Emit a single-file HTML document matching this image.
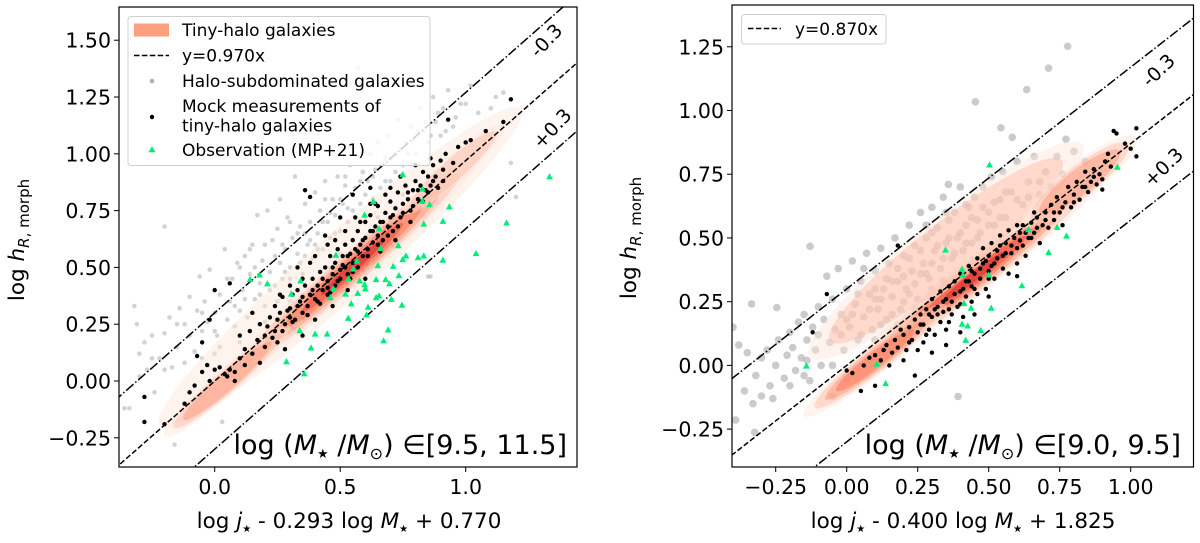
<!DOCTYPE html>
<html><head><meta charset="utf-8">
<style>
html,body{margin:0;padding:0;background:#fff;}
svg{display:block;font-family:"DejaVu Sans","Liberation Sans",sans-serif;}
</style></head>
<body>
<svg id="chart" width="1200" height="543" viewBox="0 0 1200 543" xmlns="http://www.w3.org/2000/svg">
<defs>
<clipPath id="clipL"><rect x="119" y="7" width="458" height="460"/></clipPath>
<clipPath id="clipR"><rect x="732" y="5" width="461.5" height="462"/></clipPath>
</defs>
<g id="panelL"></g>
<g id="panelR"></g>
</svg>
<script>
// ---------- LEFT PANEL DATA ----------
const leftXTicks = [0.0, 0.5, 1.0];
const leftXTickLabels = ["0.0", "0.5", "1.0"];
const leftYTicks = [-0.25, 0, 0.25, 0.5, 0.75, 1.0, 1.25, 1.5];
const leftYTickLabels = ["\u22120.25", "0.00", "0.25", "0.50", "0.75", "1.00", "1.25", "1.50"];
const leftSlope = 0.970;
const leftOffset = 0.3;
const leftBlack = [[-0.28,-0.07],[-0.28,-0.18],[-0.2,-0.19],[-0.12,-0.1],[-0.1,-0.05],[-0.08,-0.02],[-0.07,0.11],[-0.05,0.04],[-0.03,0.07],[-0.02,0.0],[0.0,0.05],[0.02,0.06],[0.04,0.03],[0.06,0.05],[0.05,0.02],[0.08,0.04],[0.1,0.1],[0.12,0.07],[-0.05,0.17],[-0.02,0.27],[0.0,0.4],[0.06,0.43],[0.12,0.14],[0.14,0.22],[0.15,0.12],[0.17,0.18],[0.18,0.25],[0.2,0.2],[0.2,0.15],[0.22,0.28],[0.24,0.33],[0.24,0.22],[0.26,0.3],[0.27,0.37],[0.28,0.25],[0.3,0.28],[0.3,0.32],[0.31,0.38],[0.32,0.27],[0.33,0.4],[0.34,0.35],[0.35,0.3],[0.36,0.42],[0.36,0.84],[0.38,0.81],[0.37,0.33],[0.38,0.38],[0.39,0.45],[0.4,0.36],[0.41,0.42],[0.42,0.48],[0.42,0.34],[0.43,0.4],[0.44,0.5],[0.45,0.44],[0.45,0.38],[0.46,0.55],[0.47,0.47],[0.48,0.42],[0.48,0.52],[0.49,0.58],[0.5,0.49],[0.5,0.45],[0.51,0.55],[0.52,0.6],[0.52,0.5],[0.53,0.47],[0.54,0.56],[0.55,0.62],[0.55,0.52],[0.56,0.58],[0.57,0.5],[0.57,0.66],[0.58,0.6],[0.59,0.55],[0.6,0.63],[0.6,0.7],[0.61,0.58],[0.62,0.66],[0.62,0.73],[0.63,0.61],[0.64,0.68],[0.65,0.64],[0.65,0.77],[0.66,0.7],[0.67,0.62],[0.68,0.74],[0.69,0.68],[0.7,0.79],[0.7,0.72],[0.71,0.66],[0.72,0.76],[0.73,0.83],[0.74,0.72],[0.75,0.78],[0.76,0.86],[0.77,0.8],[0.78,0.75],[0.79,0.84],[0.8,0.88],[0.81,0.8],[0.82,0.86],[0.83,0.92],[0.84,0.84],[0.85,0.9],[0.86,0.86],[0.87,0.95],[0.88,0.9],[0.9,0.97],[0.91,0.93],[0.92,1.0],[0.95,0.96],[0.97,1.03],[1.0,1.05],[1.02,1.06],[1.08,1.1],[1.15,1.14],[1.18,1.24],[0.93,1.15],[0.55,0.82],[0.5,0.72],[0.33,0.5],[0.44,0.64],[0.62,0.85],[0.28,0.14],[0.35,0.2],[0.4,0.27],[0.47,0.33],[0.53,0.4],[0.6,0.45],[0.25,0.17],[0.18,0.08],[0.08,0.0],
[0.21,0.24],[0.23,0.19],[0.25,0.27],[0.27,0.22],[0.29,0.31],[0.31,0.26],[0.33,0.33],[0.35,0.37],[0.37,0.29],[0.39,0.4],[0.41,0.35],[0.43,0.45],[0.45,0.41],[0.47,0.5],[0.49,0.44],[0.51,0.51],[0.53,0.55],[0.55,0.48],[0.57,0.57],[0.59,0.62],[0.61,0.55],[0.63,0.66],[0.65,0.6],[0.67,0.7],[0.69,0.64],[0.71,0.73],[0.73,0.68],[0.75,0.74],[0.77,0.83],[0.79,0.77],[0.81,0.84],[0.83,0.79],[0.85,0.83],[0.87,0.88],[0.89,0.85],[0.91,0.88],[0.4,0.55],[0.45,0.6],[0.38,0.52],[0.3,0.42],[0.26,0.38],[0.52,0.66],[0.58,0.7],[0.64,0.78],[0.7,0.85],[0.15,0.3],[0.1,0.2],[0.35,0.45],[0.48,0.62],[0.56,0.72],[0.62,0.78],[0.68,0.82],[0.74,0.9],[0.8,0.95],[0.86,0.98],[0.46,0.39],[0.54,0.45],[0.66,0.57],[0.72,0.62],[0.78,0.7]];
const leftGray = [[-0.36,-0.12],[-0.34,-0.12],[-0.32,0.33],[-0.31,0.25],[-0.3,0.12],[-0.3,0.02],[-0.28,0.17],[-0.27,0.05],[-0.25,0.2],[-0.24,-0.05],[-0.22,0.1],[-0.2,0.68],[-0.2,0.21],[-0.18,0.28],[-0.17,0.06],[-0.16,-0.28],[-0.15,0.15],[-0.14,0.32],[-0.12,0.25],[-0.1,0.2],[-0.1,0.37],[-0.08,0.13],[-0.07,0.31],[-0.06,0.46],[-0.05,0.22],[-0.04,0.35],[-0.03,0.26],[-0.02,0.49],[0.0,0.3],[0.01,0.2],[0.02,0.38],[0.03,-0.18],[0.04,0.58],[0.05,0.27],[0.06,0.35],[0.07,0.45],[0.08,0.24],[0.09,0.52],[0.1,0.31],[0.11,0.4],[0.12,0.55],[0.13,0.28],[0.14,0.47],[0.15,0.6],[0.16,0.36],[0.17,0.73],[0.18,0.43],[0.19,0.53],[0.2,0.33],[0.21,0.75],[0.22,0.48],[0.23,0.62],[0.24,0.42],[0.25,0.67],[0.26,0.52],[0.27,0.45],[0.28,0.58],[0.29,0.72],[0.3,0.5],[0.31,0.63],[0.32,0.9],[0.33,0.56],[0.34,0.68],[0.35,0.47],[0.36,0.78],[0.37,0.6],[0.38,0.7],[0.39,0.54],[0.4,0.83],[0.41,0.65],[0.42,0.75],[0.43,0.58],[0.44,0.88],[0.45,0.7],[0.46,0.63],[0.47,0.8],[0.48,0.73],[0.49,0.9],[0.5,0.66],[0.51,0.78],[0.52,0.86],[0.53,0.7],[0.54,0.95],[0.55,0.75],[0.56,0.85],[0.57,1.38],[0.58,0.78],[0.59,0.92],[0.6,0.72],[0.61,0.88],[0.62,1.0],[0.63,0.8],[0.64,0.93],[0.65,1.05],[0.66,0.85],[0.68,0.98],[0.69,1.08],[0.7,0.88],[0.72,1.0],[0.73,1.15],[0.75,0.95],[0.76,1.05],[0.78,1.12],[0.8,1.0],[0.82,1.2],[0.83,1.1],[0.85,1.05],[0.87,1.25],[0.88,1.14],[0.9,1.08],[0.91,1.2],[0.93,1.28],[0.95,1.12],[0.98,1.22],[1.02,1.3],[1.05,1.18],[1.1,1.2],[1.12,1.25],[1.15,1.27],[1.18,0.96],[1.2,0.81],[0.85,0.46],[0.86,0.46],[0.42,0.42],[0.3,0.35],[0.5,0.56],[0.65,0.72],[0.2,0.26],[0.1,0.17],[0.0,0.12],[-0.12,0.08],[0.35,0.38],[0.55,0.62],[0.75,0.82],[0.25,0.35],[0.45,0.5],
[-0.05,0.3],[0.0,0.22],[0.05,0.45],[0.08,0.33],[0.12,0.36],[0.16,0.5],[0.18,0.38],[0.22,0.4],[0.24,0.55],[0.27,0.6],[0.3,0.45],[0.33,0.65],[0.36,0.55],[0.38,0.62],[0.41,0.58],[0.43,0.7],[0.46,0.74],[0.48,0.65],[0.5,0.8],[0.53,0.76],[0.56,0.72],[0.58,0.88],[0.6,0.82],[0.63,0.9],[0.66,0.95],[0.68,0.88],[0.7,0.98],[0.72,0.92],[0.74,1.02],[0.77,1.0],[0.79,1.06],[0.81,1.1],[0.84,1.14],[0.86,1.08],[0.89,1.18],[0.92,1.1],[0.96,1.16],[1.0,1.22],[0.2,0.6],[0.14,0.58],[0.3,0.7],[0.1,0.5],[0.26,0.8],[0.36,0.65],[0.44,0.8],[0.52,0.9],[-0.15,0.25],[-0.2,0.05],[-0.25,0.1],[-0.05,0.1],[0.02,0.15],[0.28,0.48],[0.34,0.52],[0.4,0.6]];
const leftGreen = [[1.334,0.898],[1.163,0.695],[1.041,0.56],[0.909,0.702],[0.935,0.766],[0.909,0.531],[0.856,0.776],[0.828,0.844],[0.828,0.791],[0.833,0.69],[0.833,0.55],[0.81,0.542],[0.749,0.908],[0.632,0.789],[0.597,0.73],[0.655,0.669],[0.661,0.583],[0.731,0.595],[0.762,0.55],[0.749,0.534],[0.711,0.504],[0.734,0.463],[0.681,0.446],[0.696,0.427],[0.65,0.507],[0.643,0.446],[0.597,0.424],[0.578,0.44],[0.6,0.405],[0.567,0.527],[0.552,0.492],[0.533,0.45],[0.483,0.553],[0.473,0.405],[0.521,0.382],[0.57,0.385],[0.544,0.339],[0.643,0.366],[0.655,0.374],[0.704,0.359],[0.746,0.333],[0.611,0.324],[0.605,0.29],[0.532,0.275],[0.46,0.366],[0.339,0.221],[0.4,0.206],[0.448,0.206],[0.384,0.145],[0.286,0.084],[0.357,0.031],[0.673,0.176],[0.691,0.224],[0.305,0.382],[0.21,0.427],[0.141,0.446],[0.179,0.466],[0.342,0.44]];
const leftKdeX = [0.5, 0.55, 0.05, 0.95];
const leftKdeY = [0.5, 0.5, 0.0, 0.93];
const leftKdeLen = [0.72, 0.5, 0.25, 0.2];
const leftKdeWid = [0.2, 0.11, 0.08, 0.08];
const leftKdePeak = [1, 6, 3, 2];

// ---------- RIGHT PANEL DATA ----------
const rightXTicks = [-0.25, 0, 0.25, 0.5, 0.75, 1.0];
const rightXTickLabels = ["\u22120.25", "0.00", "0.25", "0.50", "0.75", "1.00"];
const rightYTicks = [-0.25, 0, 0.25, 0.5, 0.75, 1.0, 1.25];
const rightYTickLabels = ["\u22120.25", "0.00", "0.25", "0.50", "0.75", "1.00", "1.25"];
const rightSlope = 0.870;
const rightOffset = 0.3;
const rightBlack = [[-0.12,0.13],[-0.07,0.28],[0.0,-0.02],[0.02,-0.03],[0.05,-0.1],[0.06,0.0],[0.08,0.03],[0.1,-0.08],[0.1,0.04],[0.12,0.02],[0.13,0.06],[0.15,0.0],[0.16,0.05],[0.17,0.1],[0.18,0.47],[0.18,0.07],[0.2,0.12],[0.21,0.06],[0.22,0.15],[0.23,0.1],[0.24,0.18],[0.24,-0.04],[0.25,0.13],[0.26,0.2],[0.27,0.09],[0.27,0.16],[0.28,0.22],[0.29,0.14],[0.3,0.19],[0.3,0.26],[0.31,0.12],[0.32,0.23],[0.33,0.17],[0.33,0.29],[0.34,0.21],[0.35,0.26],[0.35,0.14],[0.36,0.31],[0.37,0.2],[0.37,0.25],[0.38,0.33],[0.39,0.23],[0.4,0.29],[0.4,0.36],[0.41,0.19],[0.42,0.27],[0.42,0.33],[0.43,0.39],[0.44,0.25],[0.44,0.31],[0.45,0.36],[0.46,0.42],[0.46,0.28],[0.47,0.34],[0.48,0.4],[0.48,0.46],[0.49,0.3],[0.5,0.37],[0.5,0.43],[0.51,0.48],[0.52,0.34],[0.52,0.4],[0.53,0.45],[0.54,0.51],[0.55,0.38],[0.55,0.43],[0.56,0.48],[0.57,0.36],[0.57,0.53],[0.58,0.44],[0.59,0.5],[0.6,0.4],[0.6,0.46],[0.61,0.52],[0.62,0.47],[0.62,0.55],[0.63,0.43],[0.64,0.5],[0.65,0.56],[0.66,0.52],[0.67,0.58],[0.68,0.48],[0.69,0.55],[0.7,0.6],[0.71,0.54],[0.72,0.63],[0.73,0.57],[0.74,0.66],[0.75,0.6],[0.76,0.55],[0.77,0.64],[0.78,0.7],[0.79,0.62],[0.8,0.67],[0.81,0.72],[0.82,0.65],[0.83,0.7],[0.84,0.76],[0.85,0.68],[0.86,0.72],[0.87,0.77],[0.88,0.71],[0.89,0.75],[0.9,0.69],[0.91,0.8],[0.92,0.83],[0.93,0.78],[0.94,0.92],[0.95,0.91],[0.98,0.87],[1.0,0.85],[1.02,0.93],[1.02,0.82],[0.6,0.35],[0.35,0.08],[0.4,0.13],[0.5,0.27],[0.3,0.05],[0.45,0.2],
[0.14,0.08],[0.19,0.14],[0.22,0.09],[0.26,0.16],[0.29,0.2],[0.31,0.22],[0.34,0.25],[0.36,0.22],[0.38,0.28],[0.41,0.3],[0.43,0.33],[0.45,0.3],[0.47,0.38],[0.49,0.41],[0.51,0.39],[0.53,0.42],[0.56,0.44],[0.58,0.47],[0.61,0.49],[0.63,0.52],[0.65,0.5],[0.67,0.54],[0.7,0.57],[0.73,0.6],[0.76,0.62],[0.8,0.64],[0.84,0.7],[0.87,0.74],[0.9,0.73],[0.32,0.2],[0.28,0.12],[0.44,0.37],[0.54,0.47],[0.6,0.55],[0.66,0.6],[0.5,0.34],[0.4,0.24],[0.2,0.02],[0.25,0.06],[0.36,0.17]];
const rightGray = [[0.778,1.252],[0.711,1.166],[0.634,1.082],[0.453,1.034],[0.543,0.932],[0.583,0.895],[0.772,0.887],[0.358,0.71],[-0.129,0.467],[-0.335,0.241],[-0.246,0.227],[0.392,-0.122],[-0.324,-0.263],[-0.391,-0.214],[-0.38,0.08],[-0.36,-0.1],[-0.35,0.05],[-0.33,-0.15],[-0.32,-0.04],[-0.3,0.03],[-0.28,0.06],[-0.27,-0.08],[-0.25,0.0],[-0.24,0.1],[-0.22,-0.05],[-0.21,0.04],[-0.2,0.13],[-0.19,0.07],[-0.18,-0.02],[-0.17,0.17],[-0.16,0.03],[-0.15,0.2],[-0.14,0.1],[-0.13,-0.06],[-0.12,0.15],[-0.11,0.06],[-0.1,0.23],[-0.09,0.0],[-0.08,0.18],[-0.07,0.35],[-0.06,0.09],[-0.05,0.26],[-0.04,0.14],[-0.03,0.38],[-0.02,0.2],[-0.01,0.06],[0.0,0.3],[0.01,0.15],[0.02,0.41],[0.03,0.24],[0.04,0.1],[0.05,0.33],[0.06,0.19],[0.07,0.44],[0.08,0.28],[0.09,0.14],[0.1,0.37],[0.11,0.22],[0.12,0.46],[0.13,0.3],[0.14,0.18],[0.15,0.4],[0.16,0.27],[0.17,0.5],[0.18,0.33],[0.19,0.22],[0.2,0.43],[0.21,0.3],[0.22,0.55],[0.23,0.37],[0.24,0.47],[0.25,0.26],[0.26,0.6],[0.27,0.4],[0.28,0.5],[0.29,0.34],[0.3,0.62],[0.31,0.45],[0.32,0.54],[0.33,0.38],[0.34,0.66],[0.35,0.48],[0.36,0.57],[0.37,0.42],[0.38,0.6],[0.39,0.5],[0.4,0.7],[0.41,0.45],[0.42,0.55],[0.43,0.62],[0.44,0.48],[0.45,0.66],[0.46,0.57],[0.47,0.52],[0.48,0.7],[0.5,0.6],[0.51,0.74],[0.52,0.55],[0.54,0.65],[0.55,0.76],[0.56,0.58],[0.58,0.68],[0.6,0.8],[0.62,0.63],[0.64,0.72],[0.66,0.82],[0.68,0.67],[0.7,0.76],[0.72,0.7],[0.74,0.82],[0.76,0.75],[0.8,0.84],[0.84,0.8],[-0.4,0.15],[-0.26,-0.13],[-0.05,-0.12],[0.0,-0.05],[-0.15,-0.04],[0.3,0.52],[0.2,0.35],[0.1,0.26],[0.45,0.33],[0.4,0.3],[0.1,0.1],
[0.02,0.2],[0.05,0.12],[0.08,0.22],[0.1,0.3],[0.12,0.16],[0.14,0.34],[0.16,0.2],[0.18,0.38],[0.2,0.25],[0.22,0.42],[0.24,0.32],[0.26,0.45],[0.28,0.36],[0.3,0.4],[0.32,0.47],[0.34,0.42],[0.36,0.5],[0.38,0.44],[0.4,0.52],[0.42,0.48],[0.44,0.58],[0.46,0.5],[0.48,0.62],[0.5,0.55],[0.52,0.64],[0.54,0.58],[0.56,0.68],[0.6,0.65],[0.64,0.66],[0.68,0.72],[-0.1,0.12],[-0.05,0.0],[-0.02,0.12],[0.0,0.18],[0.04,0.28],[0.06,0.38],[0.12,0.26],[0.16,0.33],[0.22,0.28],[0.26,0.36],[0.3,0.3],[0.34,0.33],[0.18,0.16],[0.24,0.22],[-0.2,-0.08],[-0.3,-0.12],[-0.14,0.02],[0.28,0.55],[0.35,0.6],[0.42,0.63]];
const rightGreen = [[0.503,0.786],[0.953,0.777],[0.64,0.532],[0.741,0.541],[0.774,0.507],[0.711,0.442],[0.617,0.312],[0.348,0.452],[0.406,0.377],[0.409,0.354],[0.5,0.354],[0.413,0.242],[0.438,0.224],[0.509,0.224],[0.406,0.161],[0.426,0.154],[0.472,0.136],[0.419,0.098],[0.106,0.004],[-0.142,-0.003],[0.137,-0.072]];
const rightKdeX = [0.45, 0.1, 0.35, 0.82];
const rightKdeY = [0.35, 0.02, 0.45, 0.72];
const rightKdeLen = [0.45, 0.25, 0.48, 0.2];
const rightKdeWid = [0.1, 0.08, 0.18, 0.1];
const rightKdePeak = [6, 4, 2, 3];

const NS = "http://www.w3.org/2000/svg";
function mk(tag, attrs, parent){
  const e = document.createElementNS(NS, tag);
  for (const k in attrs) e.setAttribute(k, attrs[k]);
  if (parent) parent.appendChild(e);
  return e;
}
const kdeColors = ["#fee5d9","#fcbba1","#fc9272","#fb6a4a","#ef3b2c","#cb181d"];

function drawPanel(g, cfg){
  const X = v => cfg.x0 + cfg.sx * v;
  const Y = v => cfg.y0 - cfg.sy * v;
  const F = cfg.frame;
  const plot = mk("g", {"clip-path": "url(#" + cfg.clip + ")"}, g);

  const grayG = mk("g", {}, plot);
  
  
  cfg.gray.forEach(p => {
    const c = mk("circle", {cx: X(p[0]), cy: Y(p[1]), r: cfg.grayR, fill: "#a8a8a8", "fill-opacity": cfg.grayA}, grayG);
    
    
  });

  const kdeG = mk("g", {}, plot);
  
  
  for (let i = 0; i < cfg.kdeX.length; i++){
    const cx = cfg.kdeX[i], cy = cfg.kdeY[i], L = cfg.kdeLen[i], W = cfg.kdeWid[i];
    const ax = X(cx - L), ay = Y(cy - L * cfg.slope), bx = X(cx + L), by = Y(cy + L * cfg.slope);
    const pcx = X(cx), pcy = Y(cy);
    const len = Math.hypot(bx - ax, by - ay) / 2;
    const ang = Math.atan2(by - ay, bx - ax) * 180 / Math.PI;
    const wid = W * cfg.sy * 0.7;
    for (let k = 0; k < cfg.kdePeak[i]; k++){
      const f = 1 - k * 0.15;
      const e = mk("ellipse", {cx: pcx, cy: pcy, rx: len * f, ry: wid * (1 - k * 0.15), fill: kdeColors[k], "fill-opacity": 0.45,
        transform: "rotate(" + ang + " " + pcx + " " + pcy + ")"}, kdeG);
      
      
    }
  }

  const xa = cfg.xmin, xb = cfg.xmax;
  const lineDefs = [[0, "5.5,2.4", "fit-line"], [cfg.offset, "9.6,2.4,1.5,2.4", "offset-line-minus"], [-cfg.offset, "9.6,2.4,1.5,2.4", "offset-line-plus"]];
  lineDefs.forEach(d => {
    const l = mk("line", {x1: X(xa), y1: Y(cfg.slope * xa + d[0]), x2: X(xb), y2: Y(cfg.slope * xb + d[0]), stroke: "#000", "stroke-width": 1.5, "stroke-dasharray": d[1]}, plot);
    
    
  });

  const blackG = mk("g", {}, plot);
  
  
  cfg.black.forEach(p => {
    const c = mk("circle", {cx: X(p[0]), cy: Y(p[1]), r: 2.2, fill: "#000"}, blackG);
    
    
  });

  const greenG = mk("g", {}, plot);
  
  
  cfg.green.forEach(p => {
    const x = X(p[0]), y = Y(p[1]);
    const t = mk("polygon", {points: `${x},${y-3.8} ${x-3.4},${y+2.4} ${x+3.4},${y+2.4}`, fill: "#00ee77"}, greenG);
    
    
  });

  const fr = mk("rect", {x: F[0], y: F[1], width: F[2] - F[0], height: F[3] - F[1], fill: "none", stroke: "#000", "stroke-width": 1.2}, g);
  
  

  cfg.xTicks.forEach((v, i) => {
    const x = X(v);
    const t = mk("line", {x1: x, y1: F[3], x2: x, y2: F[3] + 5, stroke: "#000", "stroke-width": 1}, g);
    
    
    const tx = mk("text", {x: x, y: F[3] + 27, "font-size": 20.5, "text-anchor": "middle", fill: "#000"}, g);
    tx.textContent = cfg.xLabels[i];
    
    
  });
  cfg.yTicks.forEach((v, i) => {
    const y = Y(v);
    const t = mk("line", {x1: F[0] - 5, y1: y, x2: F[0], y2: y, stroke: "#000", "stroke-width": 1}, g);
    
    
    const tx = mk("text", {x: F[0] - 8, y: y + 7.5, "font-size": 20.5, "text-anchor": "end", fill: "#000"}, g);
    tx.textContent = cfg.yLabels[i];
    
    
  });
}

drawPanel(document.getElementById("panelL"), {x0: 214.7, sx: 251, y0: 381, sy: 227.2, frame: [119, 7, 577, 467], clip: "clipL",
  xmin: -0.4, xmax: 1.5, slope: leftSlope, offset: leftOffset, gray: leftGray, black: leftBlack, green: leftGreen,
  kdeX: leftKdeX, kdeY: leftKdeY, kdeLen: leftKdeLen, kdeWid: leftKdeWid, kdePeak: leftKdePeak, grayR: 2.3, grayA: 0.5,
  xTicks: leftXTicks, xLabels: leftXTickLabels, yTicks: leftYTicks, yLabels: leftYTickLabels});
drawPanel(document.getElementById("panelR"), {x0: 846.7, sx: 284, y0: 365.4, sy: 254.9, frame: [732, 5, 1193.5, 467], clip: "clipR",
  xmin: -0.45, xmax: 1.25, slope: rightSlope, offset: rightOffset, gray: rightGray, black: rightBlack, green: rightGreen,
  kdeX: rightKdeX, kdeY: rightKdeY, kdeLen: rightKdeLen, kdeWid: rightKdeWid, kdePeak: rightKdePeak, grayR: 3.8, grayA: 0.6,
  xTicks: rightXTicks, xLabels: rightXTickLabels, yTicks: rightYTicks, yLabels: rightYTickLabels});
</script>

<svg width="1200" height="543" style="position:absolute;left:0;top:0;font-family:'DejaVu Sans','Liberation Sans',sans-serif;">
  <g>
    <rect x="128" y="16.5" width="302" height="149" rx="3" fill="#fff" fill-opacity="0.8" stroke="#d0d0d0" stroke-width="1"/>
    <rect x="134" y="23.5" width="35" height="13" fill="#fc9f7f"/>
    <text x="182" y="36" font-size="17">Tiny-halo galaxies</text>
    <line x1="134" y1="55.5" x2="169" y2="55.5" stroke="#000" stroke-width="1.5" stroke-dasharray="5.5,2.4"/>
    <text x="182" y="61.5" font-size="17">y=0.970x</text>
    <circle cx="152" cy="81" r="2.3" fill="#b0b0b0"/>
    <text x="182" y="87" font-size="17">Halo-subdominated galaxies</text>
    <circle cx="152" cy="117" r="2.2" fill="#000"/>
    <text x="182" y="112" font-size="17">Mock measurements of</text>
    <text x="182" y="131.5" font-size="17">tiny-halo galaxies</text>
    <polygon points="152,146 148.6,152.3 155.4,152.3" fill="#00ee77"/>
    <text x="182" y="156" font-size="17">Observation (MP+21)</text>
  </g>
  <g>
    <rect x="741.5" y="14.5" width="144.5" height="29.5" rx="3" fill="#fff" fill-opacity="0.8" stroke="#d0d0d0" stroke-width="1"/>
    <line x1="748" y1="28.5" x2="781" y2="28.5" stroke="#000" stroke-width="1.5" stroke-dasharray="5.5,2.4"/>
    <text x="795" y="35" font-size="17">y=0.870x</text>
  </g>
  <text x="0" y="0" font-size="19" transform="translate(551,45) rotate(-47)" text-anchor="middle">-0.3</text>
  <text x="0" y="0" font-size="19" transform="translate(557,133) rotate(-47)" text-anchor="middle">+0.3</text>
  <text x="0" y="0" font-size="19" transform="translate(1163,75) rotate(-44)" text-anchor="middle">-0.3</text>
  <text x="0" y="0" font-size="19" transform="translate(1168,172) rotate(-44)" text-anchor="middle">+0.3</text>
  <text x="567" y="454" font-size="27" text-anchor="end">log (<tspan font-style="italic">M</tspan><tspan font-size="13" dy="4">★</tspan><tspan dy="-4"> /</tspan><tspan font-style="italic">M</tspan><tspan font-size="16" dy="5">⊙</tspan><tspan dy="-5">) ∈[9.5, 11.5]</tspan></text>
  <text x="1181" y="454" font-size="27" text-anchor="end">log (<tspan font-style="italic">M</tspan><tspan font-size="13" dy="4">★</tspan><tspan dy="-4"> /</tspan><tspan font-style="italic">M</tspan><tspan font-size="16" dy="5">⊙</tspan><tspan dy="-5">) ∈[9.0, 9.5]</tspan></text>
  <text x="349" y="528" font-size="21.5" text-anchor="middle">log <tspan font-style="italic">j</tspan><tspan font-size="10" dy="4">★</tspan><tspan dy="-4">  - 0.293 log </tspan><tspan font-style="italic">M</tspan><tspan font-size="10" dy="4">★</tspan><tspan dy="-4">  + 0.770</tspan></text>
  <text x="963" y="528" font-size="21.5" text-anchor="middle">log <tspan font-style="italic">j</tspan><tspan font-size="10" dy="4">★</tspan><tspan dy="-4">  - 0.400 log </tspan><tspan font-style="italic">M</tspan><tspan font-size="10" dy="4">★</tspan><tspan dy="-4">  + 1.825</tspan></text>
  <text x="0" y="0" font-size="21.5" text-anchor="middle" transform="translate(24,240) rotate(-90)">log <tspan font-style="italic">h</tspan><tspan font-size="15" dy="5"><tspan font-style="italic">R</tspan>, morph</tspan></text>
  <text x="0" y="0" font-size="21.5" text-anchor="middle" transform="translate(636,238) rotate(-90)">log <tspan font-style="italic">h</tspan><tspan font-size="15" dy="5"><tspan font-style="italic">R</tspan>, morph</tspan></text>
</svg>
</body></html>
